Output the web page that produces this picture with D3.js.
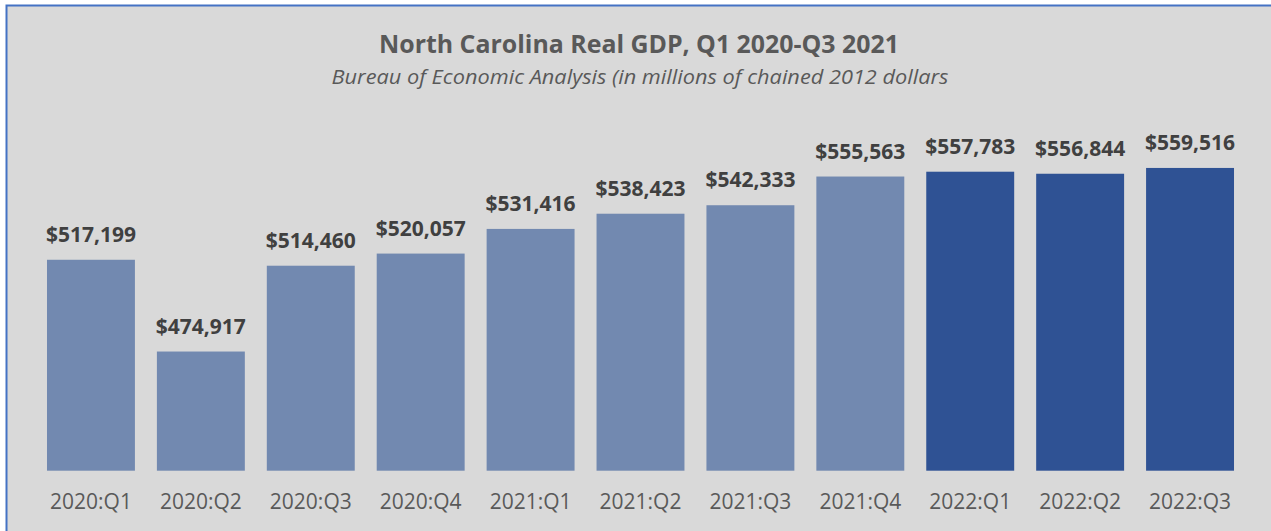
<!DOCTYPE html>
<html>
<head>
<meta charset="utf-8">
<script src="https://cdn.jsdelivr.net/npm/d3@7"></script>
<style>
  body { margin: 0; background: #fff; }
  svg { display: block; font-family: "Open Sans", "Noto Sans", sans-serif; }
</style>
</head>
<body>
<script>
// データ
var quarters = ["2020:Q1", "2020:Q2", "2020:Q3", "2020:Q4", "2021:Q1", "2021:Q2",
                "2021:Q3", "2021:Q4", "2022:Q1", "2022:Q2", "2022:Q3"];
var gdpValues = [517199, 474917, 514460, 520057, 531416, 538423,
                 542333, 555563, 557783, 556844, 559516];
var titleText = "North Carolina Real GDP, Q1 2020-Q3 2021";
var subtitleText = "Bureau of Economic Analysis (in millions of chained 2012 dollars";

var width = 1271, height = 531;

var svg = d3.select("body").append("svg")
    .attr("width", width)
    .attr("height", height);

// 背景と枠
svg.append("rect")
    .attr("x", 6.5).attr("y", 5.5)
    .attr("width", width + 20).attr("height", height + 20)
    .attr("fill", "#d9d9d9")
    .attr("stroke", "#4472c4")
    .attr("stroke-width", 2);

// Scaleの設定
var xScale = d3.scaleBand()
    .domain(quarters)
    .range([36, 1245])
    .paddingInner(0.2)
    .paddingOuter(0.1);

var yScale = d3.scaleLinear()
    .domain([420000, 580000])
    .range([470.7, 123.5]);

var fmt = d3.format("$,");

// タイトル
svg.append("text")
    .attr("x", 639).attr("y", 53.3)
    .attr("text-anchor", "middle")
    .attr("textLength", 520)
    .attr("lengthAdjust", "spacingAndGlyphs")
    .style("font-size", "25px")
    .style("font-weight", "bold")
    .style("fill", "#595959")
    .text(titleText);

svg.append("text")
    .attr("x", 640).attr("y", 84.3)
    .attr("text-anchor", "middle")
    .attr("textLength", 617)
    .attr("lengthAdjust", "spacingAndGlyphs")
    .style("font-size", "20px")
    .style("font-style", "italic")
    .style("fill", "#595959")
    .text(subtitleText);

// バー
var data = quarters.map(function(q, i) { return {q: q, v: gdpValues[i]}; });

svg.selectAll(".bar")
    .data(data)
    .enter().append("rect")
    .attr("class", "bar")
    .attr("x", function(d) { return xScale(d.q); })
    .attr("y", function(d) { return yScale(d.v); })
    .attr("width", xScale.bandwidth())
    .attr("height", function(d) { return yScale.range()[0] - yScale(d.v); })
    .attr("fill", function(d) { return d.q.indexOf("2022") === 0 ? "#2f5294" : "#7289b0"; });

// データラベル
svg.selectAll(".label")
    .data(data)
    .enter().append("text")
    .attr("class", "label")
    .attr("x", function(d) { return xScale(d.q) + xScale.bandwidth() / 2; })
    .attr("y", function(d) { return yScale(d.v) - 18; })
    .attr("text-anchor", "middle")
    .style("font-size", "21px")
    .style("font-weight", "bold")
    .style("fill", "#404040")
    .text(function(d) { return fmt(d.v); });

// X axis
var xAxis = svg.append("g")
    .attr("transform", "translate(0," + yScale.range()[0] + ")")
    .call(d3.axisBottom(xScale).tickSize(0).tickPadding(23));

xAxis.select(".domain").remove();
xAxis.selectAll("text")
    .style("font-family", "'Open Sans', sans-serif")
    .style("font-size", "21px")
    .style("fill", "#595959");
</script>
</body>
</html>
